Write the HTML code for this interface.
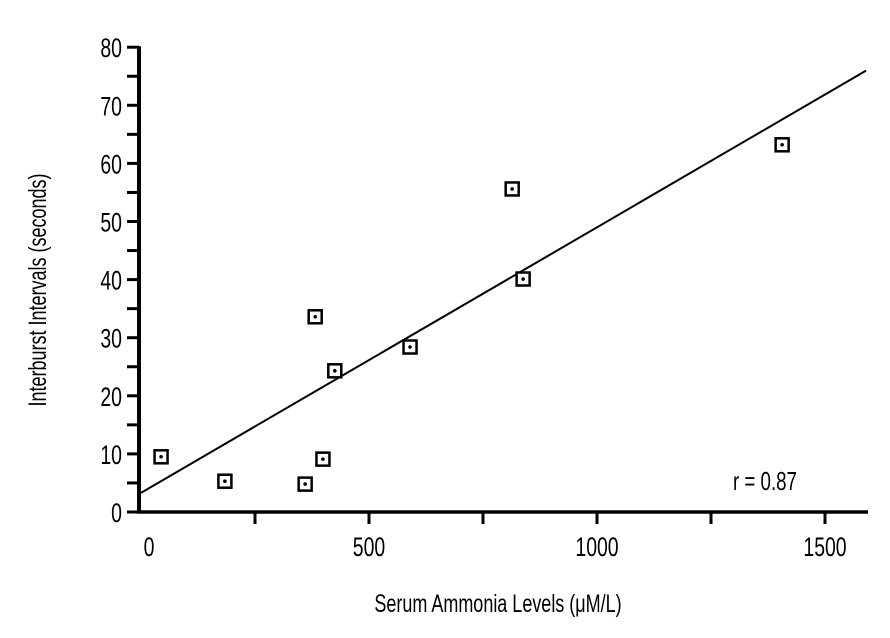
<!DOCTYPE html>
<html><head><meta charset="utf-8"><style>
html,body{margin:0;padding:0;background:#fff;}
svg{display:block;font-family:"Liberation Sans",sans-serif;}
</style></head><body>
<svg id="chart" width="890" height="638" viewBox="0 0 890 638" xmlns="http://www.w3.org/2000/svg">
<g id="axes"></g>
<g id="marks"></g>
<text x="0" y="0" font-size="26" transform="translate(733,490) scale(0.72,1)">r = 0.87</text>
<text x="0" y="0" font-size="25" text-anchor="middle" transform="translate(498,612) scale(0.72,1)">Serum Ammonia Levels (μM/L)</text>
<text x="0" y="0" font-size="25" text-anchor="middle" transform="translate(46,290) rotate(-90) scale(0.72,1)">Interburst Intervals (seconds)</text>
</svg>
<script>
const xValues = [44, 184, 360, 399, 382, 425, 590, 814, 838, 1406];
const yValues = [9.5, 5.3, 4.8, 9.1, 33.6, 24.3, 28.4, 55.6, 40.1, 63.2];
const xTickLabels = [0, 500, 1000, 1500];
const xMinorTicks = [250, 750, 1250];
const yTickLabels = [0, 10, 20, 30, 40, 50, 60, 70, 80];
const fitLine = [3.3, 0.0457]; // intercept, slope
const xMax = 1590;

const NS = "http://www.w3.org/2000/svg";
const X0 = 141, XS = 0.456, Y0 = 512, YS = 5.81;
const sx = v => X0 + v * XS;
const sy = v => Y0 - v * YS;
function mk(tag, attrs, parent) {
  const e = document.createElementNS(NS, tag);
  for (const k in attrs) e.setAttribute(k, attrs[k]);
  parent.appendChild(e);
  return e;
}
const axes = document.getElementById('axes');
const marks = document.getElementById('marks');

let yl = mk('line', {x1:139, y1:sy(80)-1, x2:139, y2:Y0+1.5, stroke:'#000', 'stroke-width':4}, axes);


let xl = mk('line', {x1:137, y1:Y0, x2:868, y2:Y0, stroke:'#000', 'stroke-width':3.5}, axes);



for (let v = 0; v <= 80; v += 5) {
  let t = mk('line', {x1:127, y1:sy(v), x2:139, y2:sy(v), stroke:'#000', 'stroke-width':3}, axes);
  
  
}
yTickLabels.forEach(v => {
  let t = mk('text', {x:0, y:0, 'font-size':27, 'text-anchor':'end', transform:`translate(122,${sy(v)+10}) scale(0.72,1)`}, axes);
  t.textContent = v;
  
  
});
xTickLabels.concat(xMinorTicks).forEach(v => {
  if (v === 0) return;
  let t = mk('line', {x1:sx(v), y1:Y0, x2:sx(v), y2:Y0+12, stroke:'#000', 'stroke-width':3}, axes);
  
  
});
xTickLabels.forEach(v => {
  let t = mk('text', {x:0, y:0, 'font-size':27, 'text-anchor':'middle', transform:`translate(${v===0?149:sx(v)},${Y0+44}) scale(0.72,1)`}, axes);
  t.textContent = v;
  
  
});

let fl = mk('line', {x1:sx(0), y1:sy(fitLine[0]), x2:sx(xMax), y2:sy(fitLine[0]+fitLine[1]*xMax), stroke:'#000', 'stroke-width':2}, marks);



xValues.forEach((xv, i) => {
  const cx = sx(xv), cy = sy(yValues[i]);
  let r = mk('rect', {x:cx-6.5, y:cy-6.5, width:13, height:13, fill:'#fff', stroke:'#000', 'stroke-width':2.5}, marks);
  
  
  let d = mk('circle', {cx:cx, cy:cy, r:1.8, fill:'#000'}, marks);
  
  
});
</script>
</body></html>
